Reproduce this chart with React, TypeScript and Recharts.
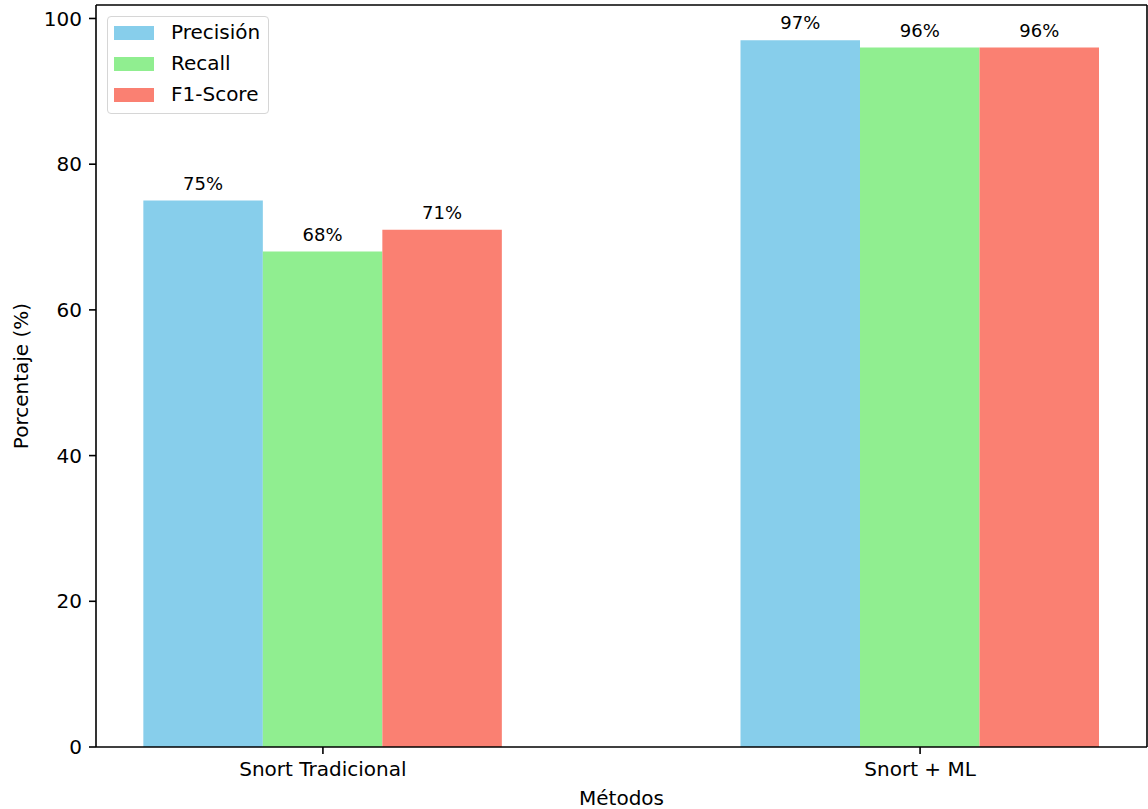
import React from "react";
import { BarChart, Bar, XAxis, YAxis, Legend, LabelList, ReferenceLine } from "recharts";

const methods = ["Snort Tradicional", "Snort + ML"];
const precision = [75, 97];
const recall = [68, 96];
const f1Score = [71, 96];
const yTicks = [0, 20, 40, 60, 80, 100];

const series = [
  { key: "precision", name: "Precisión", color: "#87CEEB" },
  { key: "recall", name: "Recall", color: "#90EE90" },
  { key: "f1", name: "F1-Score", color: "#FA8072" },
];

const data = methods.map((method, i) => ({
  pos: i,
  method,
  precision: precision[i],
  recall: recall[i],
  f1: f1Score[i],
}));

const FONT = "DejaVu Sans";
const INK = "#000";
const xDomain: [number, number] = [-0.38, 1.38];
const yDomain: [number, number] = [0, 101.85];

// matplotlib-ish legend box
const LegendBox = () => (
  <div
    style={{
      border: "1px solid #d6d6d6",
      borderRadius: 4,
      background: "rgba(255,255,255,0.8)",
      padding: "0 8px 3px 6px",
      fontFamily: FONT,
      fontSize: 20,
      color: INK,
    }}
  >
    {series.map((s) => (
      <div key={s.key} style={{ display: "flex", alignItems: "center", height: 31 }}>
        <span style={{ width: 40, height: 14, background: s.color, marginRight: 17 }} />
        <span style={{ lineHeight: "31px", whiteSpace: "nowrap" }}>{s.name}</span>
      </div>
    ))}
  </div>
);

const YLabel = ({ viewBox }: any) => {
  const x = 28;
  const y = viewBox.y + viewBox.height / 2;
  return (
    <text
      x={x}
      y={y}
      transform={`rotate(-90 ${x} ${y})`}
      textAnchor="middle"
      fontFamily={FONT}
      fontSize={20}
      fill={INK}
    >
      Porcentaje (%)
    </text>
  );
};

export default function App() {
  const axisLine = { stroke: INK, strokeWidth: 1.6 };
  const tick = { fontSize: 20, fill: INK, fontFamily: FONT };

  return (
    <div>
      <style>{`body{margin:0;background:#fff}`}</style>
      <BarChart
        width={1148}
        height={809}
        data={data}
        margin={{ top: 5, right: 1, left: 0, bottom: 0 }}
        barGap={0}
        style={{ fontFamily: FONT }}
      >
        <XAxis
          dataKey="pos"
          type="number"
          domain={xDomain}
          allowDataOverflow
          ticks={[0, 1]}
          interval={0}
          tickFormatter={(v: number) => methods[v]}
          height={62}
          tick={tick}
          tickSize={7}
          tickMargin={8}
          axisLine={axisLine}
          tickLine={axisLine}
          label={{
            value: "Métodos",
            position: "insideBottom",
            offset: 4,
            fontSize: 20,
            fill: INK,
            fontFamily: FONT,
          }}
        />
        <YAxis
          domain={yDomain}
          allowDataOverflow
          ticks={yTicks}
          interval={0}
          width={96}
          tick={tick}
          tickSize={7}
          tickMargin={7}
          axisLine={axisLine}
          tickLine={axisLine}
          label={<YLabel />}
        />
        {/* top and right spines */}
        <ReferenceLine y={yDomain[1]} stroke={INK} strokeWidth={1.6} ifOverflow="visible" />
        <ReferenceLine x={xDomain[1]} stroke={INK} strokeWidth={1.6} ifOverflow="visible" />
        <Legend
          layout="vertical"
          align="center"
          verticalAlign="middle"
          content={<LegendBox />}
          wrapperStyle={{ left: 107, top: 16, width: "auto", height: "auto" }}
        />
        {series.map((s) => (
          <Bar
            key={s.key}
            dataKey={s.key}
            name={s.name}
            fill={s.color}
            barSize={119.5}
            isAnimationActive={false}
          >
            <LabelList
              dataKey={s.key}
              position="top"
              offset={11}
              formatter={(v: any) => `${v}%`}
              style={{ fontSize: 18, fill: INK, fontFamily: FONT }}
            />
          </Bar>
        ))}
      </BarChart>
    </div>
  );
}
